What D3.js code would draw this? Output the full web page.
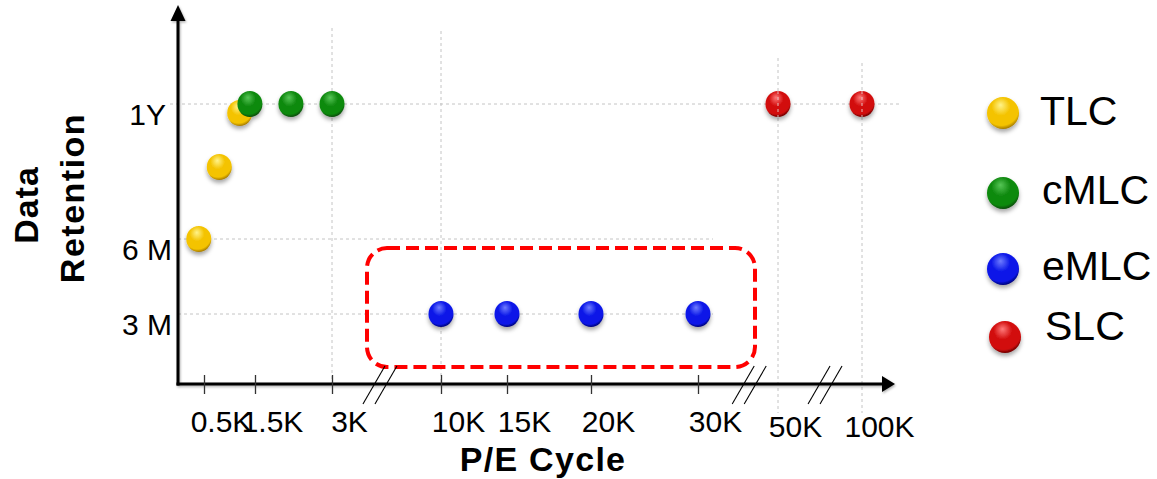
<!DOCTYPE html>
<html>
<head>
<meta charset="utf-8">
<script src="https://cdn.jsdelivr.net/npm/d3@7"></script>
<style>
  html, body { margin: 0; padding: 0; background: #fff; }
  svg { display: block; font-family: "Liberation Sans", Arial, sans-serif; }
</style>
</head>
<body>
<svg id="chart" width="1157" height="479"></svg>
<script>
// ---- data -------------------------------------------------------------
const seriesNames = ["TLC", "cMLC", "eMLC", "SLC"];

const tlcCycles = [400, 800, 1200];
const tlcRetention = [6, 9.2, 11.6];

const cmlcCycles = [1400, 2200, 3000];
const cmlcRetention = [12, 12, 12];

const emlcCycles = [10000, 15000, 20000, 30000];
const emlcRetention = [3, 3, 3, 3];

const slcCycles = [50000, 100000];
const slcRetention = [12, 12];

const xTickValues = [500, 1500, 3000, 10000, 15000, 20000, 30000, 50000, 100000];
const xTickLabels = ["0.5K", "1.5K", "3K", "10K", "15K", "20K", "30K", "50K", "100K"];

const yTickValues = [3, 6, 12];
const yTickLabels = ["3 M", "6 M", "1Y"];

// ---- styling ----------------------------------------------------------
const sphereColors = {
  TLC:  ["#fff38a", "#f4c300", "#a57a00"],
  cMLC: ["#56c656", "#118a11", "#064a06"],
  eMLC: ["#6f7cff", "#0a17e8", "#00007a"],
  SLC:  ["#ff7a7a", "#d20c0c", "#6e0000"]
};

const svg = d3.select("#chart");
const defs = svg.append("defs");

// sphere gradients (bounding-box units so one gradient fits any radius)
seriesNames.forEach(name => {
  const c = sphereColors[name];
  const g = defs.append("radialGradient")
    .attr("id", "sph-" + name)
    .attr("cx", "0.45").attr("cy", "0.35").attr("r", "0.65")
    .attr("fx", "0.42").attr("fy", "0.25");
  g.append("stop").attr("offset", "0%").attr("stop-color", c[0]);
  g.append("stop").attr("offset", "45%").attr("stop-color", c[1]);
  g.append("stop").attr("offset", "85%").attr("stop-color", c[1]);
  g.append("stop").attr("offset", "100%").attr("stop-color", c[2]);
});

const shadow = defs.append("filter").attr("id", "ballShadow")
  .attr("x", "-50%").attr("y", "-50%").attr("width", "200%").attr("height", "220%");
shadow.append("feDropShadow")
  .attr("dx", 0).attr("dy", 3).attr("stdDeviation", 2)
  .attr("flood-color", "#000").attr("flood-opacity", 0.35);

const axisShadow = defs.append("filter").attr("id", "axisShadow")
  .attr("x", "-5%").attr("y", "-5%").attr("width", "110%").attr("height", "110%");
axisShadow.append("feDropShadow")
  .attr("dx", 1).attr("dy", 1.5).attr("stdDeviation", 0.8)
  .attr("flood-color", "#000").attr("flood-opacity", 0.3);

// ---- scales (broken axis: piecewise linear) ---------------------------
const x = d3.scaleLinear()
  .domain([0, ...xTickValues])
  .range([178, 204, 255, 332, 441, 507, 591, 698, 778, 862]);

const y = d3.scaleLinear()
  .domain(yTickValues)
  .range([314, 239, 104]);

const axisY = 384;

// ---- grid -------------------------------------------------------------
const grid = svg.append("g")
  .attr("stroke", "#c4c4c4").attr("stroke-width", 1)
  .attr("stroke-dasharray", "3,3").attr("fill", "none");

// horizontal grid lines
grid.selectAll("line.h").data(yTickValues).join("line")
  .attr("class", "h")
  .attr("x1", d => d === 12 ? 170 : 178)
  .attr("x2", d => d === 12 ? 900 : 713)
  .attr("y1", d => y(d)).attr("y2", d => y(d));

// vertical grid lines
const vGrid = [
  { v: 3000, top: 28, bottom: axisY },
  { v: 10000, top: 31, bottom: axisY },
  { v: 50000, top: 58, bottom: 413 },
  { v: 100000, top: 63, bottom: 413 }
];
grid.selectAll("line.v").data(vGrid).join("line")
  .attr("class", "v")
  .attr("x1", d => x(d.v)).attr("x2", d => x(d.v))
  .attr("y1", d => d.top).attr("y2", d => d.bottom);

// ---- highlight box around the eMLC group ------------------------------
const boxLeft = x(d3.min(emlcCycles)) - 74;
const boxRight = x(d3.max(emlcCycles)) + 57;
const boxTop = y(3) - 66;
const boxBottom = y(3) + 53;
svg.append("rect")
  .attr("x", boxLeft).attr("y", boxTop)
  .attr("width", boxRight - boxLeft).attr("height", boxBottom - boxTop)
  .attr("rx", 20).attr("ry", 20)
  .attr("fill", "none").attr("stroke", "#ff0000")
  .attr("stroke-width", 4).attr("stroke-dasharray", "13,6");

// ---- axes -------------------------------------------------------------
const axes = svg.append("g").attr("filter", "url(#axisShadow)");
axes.append("line")
  .attr("x1", x(0)).attr("x2", x(0)).attr("y1", axisY + 1.5).attr("y2", 19)
  .attr("stroke", "#000").attr("stroke-width", 3);
axes.append("path")
  .attr("d", `M${x(0)},5 L${x(0) - 7.5},21 L${x(0) + 7.5},21 Z`)
  .attr("fill", "#000");
axes.append("line")
  .attr("x1", x(0) - 1.5).attr("x2", 884).attr("y1", axisY).attr("y2", axisY)
  .attr("stroke", "#000").attr("stroke-width", 3);
axes.append("path")
  .attr("d", `M895,${axisY} L882,${axisY - 8} L882,${axisY + 8} Z`)
  .attr("fill", "#000");

// x ticks and labels
const xAxis = d3.axisBottom(x)
  .tickValues(xTickValues)
  .tickFormat((d, i) => xTickLabels[i])
  .tickSize(0);
const xg = svg.append("g").attr("transform", `translate(0,${axisY})`).call(xAxis);
xg.select(".domain").remove();
xg.selectAll(".tick line")
  .attr("y1", -9).attr("y2", 10)
  .attr("stroke", d => d >= 50000 ? "none" : "#333")
  .attr("stroke-width", 1.3);
xg.selectAll(".tick text")
  .attr("font-family", "'Liberation Sans', Arial, sans-serif")
  .attr("font-size", 30)
  .attr("fill", "#000")
  .attr("text-anchor", "middle")
  .attr("x", 17)
  .attr("y", d => d >= 50000 ? 53 : 48)
  .attr("dy", 0);

// axis break marks, placed between neighbouring ticks
const breaks = [[3000, 10000, 0.44], [30000, 50000, 0.64], [50000, 100000, 0.56]];
const brk = svg.append("g").attr("stroke", "#000").attr("stroke-width", 1.1);
breaks.forEach(([a, b, t]) => {
  const cx = x(a) + (x(b) - x(a)) * t;
  [-6, 6].forEach(off => {
    brk.append("line")
      .attr("x1", cx + off - 11).attr("y1", axisY + 20)
      .attr("x2", cx + off + 11).attr("y2", axisY - 18);
  });
});

// y tick labels
const yg = svg.append("g");
yg.selectAll("text").data(yTickValues).join("text")
  .attr("x", d => d === 12 ? 166 : 172)
  .attr("y", d => y(d) + 21)
  .attr("text-anchor", "end")
  .attr("font-size", 30)
  .attr("fill", "#000")
  .text((d, i) => yTickLabels[i]);

// axis titles
svg.append("text")
  .attr("transform", "translate(38,205) rotate(-90)")
  .attr("text-anchor", "middle")
  .attr("font-size", 34).attr("font-weight", "bold")
  .attr("letter-spacing", 1)
  .text("Data");
svg.append("text")
  .attr("transform", "translate(84,198) rotate(-90)")
  .attr("text-anchor", "middle")
  .attr("font-size", 34).attr("font-weight", "bold")
  .attr("letter-spacing", 1.5)
  .text("Retention");
svg.append("text")
  .attr("x", 543).attr("y", 471)
  .attr("text-anchor", "middle")
  .attr("font-size", 34).attr("font-weight", "bold")
  .attr("letter-spacing", 1.3)
  .text("P/E Cycle");

// ---- points -----------------------------------------------------------
const seriesData = [
  { name: "TLC", cycles: tlcCycles, retention: tlcRetention },
  { name: "cMLC", cycles: cmlcCycles, retention: cmlcRetention },
  { name: "eMLC", cycles: emlcCycles, retention: emlcRetention },
  { name: "SLC", cycles: slcCycles, retention: slcRetention }
];

const pts = svg.append("g").attr("filter", "url(#ballShadow)");
seriesData.forEach(s => {
  pts.selectAll(null)
    .data(s.cycles.map((c, i) => ({ c, r: s.retention[i] })))
    .join("ellipse")
    .attr("cx", d => x(d.c))
    .attr("cy", d => y(d.r))
    .attr("rx", 12.5).attr("ry", 13)
    .attr("fill", `url(#sph-${s.name})`);
});

// the far-right grid lines run across the SLC spheres
svg.append("g")
  .attr("stroke", "#e6e6e6").attr("stroke-opacity", 0.8).attr("stroke-width", 1)
  .attr("stroke-dasharray", "3,3")
  .selectAll("line").data(slcCycles).join("line")
  .attr("x1", d => x(d)).attr("x2", d => x(d))
  .attr("y1", (d, i) => y(slcRetention[i]) - 13)
  .attr("y2", (d, i) => y(slcRetention[i]) + 13);

// ---- legend -----------------------------------------------------------
const legendRows = [
  { cx: 1003, cy: 113, tx: 1040, ty: 125 },
  { cx: 1003, cy: 193, tx: 1042, ty: 204 },
  { cx: 1003, cy: 269, tx: 1042, ty: 280 },
  { cx: 1005, cy: 337, tx: 1045, ty: 340 }
];
const legend = svg.append("g");
seriesNames.forEach((name, i) => {
  const r = legendRows[i];
  legend.append("circle")
    .attr("cx", r.cx).attr("cy", r.cy).attr("r", 16)
    .attr("fill", `url(#sph-${name})`)
    .attr("filter", "url(#ballShadow)");
  legend.append("text")
    .attr("x", r.tx).attr("y", r.ty)
    .attr("font-size", 41).attr("fill", "#000")
    .text(name);
});
</script>
</body>
</html>
